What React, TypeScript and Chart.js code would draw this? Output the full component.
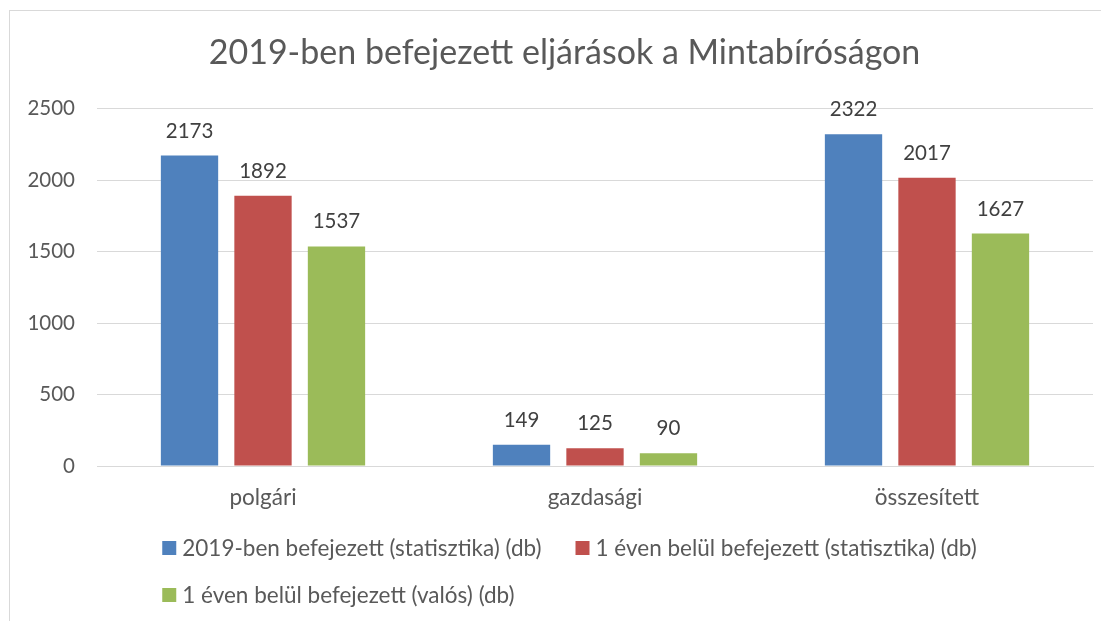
import React, { useEffect, useRef } from "react";
import { Chart, registerables } from "chart.js";

Chart.register(...registerables);

const TITLE = "2019-ben befejezett eljárások a Mintabíróságon";
const categories = ["polgári", "gazdasági", "összesített"];
const seriesLabels = [
  "2019-ben befejezett (statisztika) (db)",
  "1 éven belül befejezett (statisztika) (db)",
  "1 éven belül befejezett (valós) (db)",
];
const seriesTotal2019 = [2173, 149, 2322];
const seriesWithinYearStat = [1892, 125, 2017];
const seriesWithinYearReal = [1537, 90, 1627];
const seriesColors = ["#4F81BD", "#C0504D", "#9BBB59"];
const yMax = 2500;
const yStep = 500;

const FONT = "Lato, 'Open Sans', sans-serif";

const dataLabelPlugin = {
  id: "dataLabels",
  afterDatasetsDraw(chart: any) {
    const ctx = chart.ctx;
    ctx.save();
    ctx.font = `20.5px ${FONT}`;
    ctx.fillStyle = "#404040";
    ctx.textAlign = "center";
    ctx.textBaseline = "alphabetic";
    chart.data.datasets.forEach((ds: any, i: number) => {
      const meta = chart.getDatasetMeta(i);
      meta.data.forEach((bar: any, j: number) => {
        ctx.fillText(String(ds.data[j]), bar.x, bar.y - 18);
      });
    });
    ctx.restore();
  },
};

const legendPlugin = {
  id: "customLegend",
  afterDraw(chart: any) {
    const ctx = chart.ctx;
    ctx.save();
    ctx.font = `22.5px ${FONT}`;
    ctx.textBaseline = "middle";
    const box = 14;
    const textGap = 6;
    const itemGap = 34;
    const rowYs = [537, 584];
    const items = chart.data.datasets.map((ds: any) => ({
      label: ds.label,
      color: ds.backgroundColor,
      w: box + textGap + ctx.measureText(ds.label).width,
    }));
    const row1 = items.slice(0, 2);
    const row1W = row1.reduce((s: number, it: any) => s + it.w, 0) + itemGap * (row1.length - 1);
    const startX = chart.width / 2 + 5 - row1W / 2;
    const rows = [row1, items.slice(2)];
    rows.forEach((row: any[], r: number) => {
      let x = startX;
      const y = rowYs[r];
      row.forEach((it: any) => {
        ctx.fillStyle = it.color;
        ctx.fillRect(x, y - box / 2, box, box);
        ctx.fillStyle = "#595959";
        ctx.textAlign = "left";
        ctx.fillText(it.label, x + box + textGap, y + 1);
        x += it.w + itemGap;
      });
    });
    ctx.restore();
  },
};

export default function App() {
  const ref = useRef<HTMLCanvasElement>(null);
  useEffect(() => {
    if (!ref.current) return;
    const chart = new Chart(ref.current, {
      type: "bar",
      data: {
        labels: categories,
        datasets: [
          { label: seriesLabels[0], data: seriesTotal2019, backgroundColor: seriesColors[0] },
          { label: seriesLabels[1], data: seriesWithinYearStat, backgroundColor: seriesColors[1] },
          { label: seriesLabels[2], data: seriesWithinYearReal, backgroundColor: seriesColors[2] },
        ],
      },
      options: {
        animation: false,
        responsive: true,
        maintainAspectRatio: false,
        datasets: {
          bar: { categoryPercentage: 0.664, barPercentage: 0.78 },
        },
        layout: { padding: { top: 0, left: 0, right: 0, bottom: 113 } },
        plugins: {
          legend: { display: false },
          tooltip: { enabled: false },
          title: {
            display: true,
            text: TITLE,
            color: "#595959",
            font: { family: FONT, size: 34, weight: "normal" },
            padding: { top: 21.5, bottom: 35.5 },
          },
        },
        scales: {
          x: {
            grid: { display: false, drawTicks: false },
            border: { display: true, color: "#d9d9d9", width: 1 },
            ticks: {
              color: "#595959",
              font: { family: FONT, size: 22.5 },
              padding: 18,
            },
            afterFit: (s: any) => {
              s.height = 60;
            },
          },
          y: {
            min: 0,
            max: yMax,
            ticks: {
              stepSize: yStep,
              color: "#595959",
              font: { family: FONT, size: 20.5 },
              padding: 22,
              callback: (v: any) => String(v),
            },
            grid: { color: "#d9d9d9", lineWidth: 1, drawTicks: false },
            border: { display: false },
            afterFit: (s: any) => {
              s.width = 87;
            },
          },
          spacer: {
            type: "linear",
            position: "right",
            display: true,
            ticks: { display: false },
            grid: { display: false, drawTicks: false },
            border: { display: false },
            afterFit: (s: any) => {
              s.width = 26;
            },
          },
        },
      },
      plugins: [dataLabelPlugin, legendPlugin],
    });
    return () => chart.destroy();
  }, []);

  return (
    <div
      style={{
        position: "relative",
        left: 1,
        top: 2,
        width: 1111,
        height: 630,
        border: "1px solid #d9d9d9",
        boxSizing: "border-box",
        background: "#fff",
      }}
    >
      <canvas ref={ref} />
    </div>
  );
}
